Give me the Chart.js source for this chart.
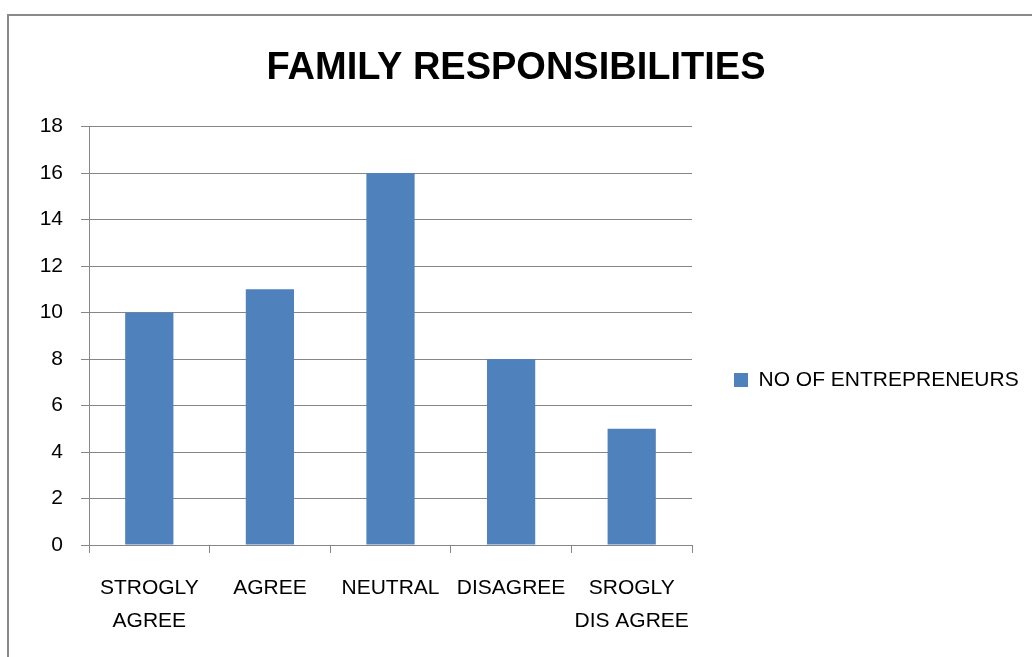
<!DOCTYPE html>
<html>
<head>
<meta charset="utf-8">
<script src="https://cdn.jsdelivr.net/npm/chart.js@4/dist/chart.umd.min.js"></script>
<style>
  html, body { margin: 0; padding: 0; background: #fff; overflow: hidden; }
  #frame { position: absolute; left: 7px; top: 14px; width: 2000px; height: 2000px; border: 2px solid #8a8a8a; }
  #chart { position: absolute; left: 0; top: 0; }
</style>
</head>
<body>
<div id="frame"></div>
<canvas id="chart" width="1032" height="657"></canvas>
<script>
// data
const chartTitle = 'FAMILY RESPONSIBILITIES';
const seriesName = 'NO OF ENTREPRENEURS';
const categories = [['STROGLY', 'AGREE'], 'AGREE', 'NEUTRAL', 'DISAGREE', ['SROGLY', 'DIS AGREE']];
const entrepreneurs = [10, 11, 16, 8, 5];
const yMin = 0, yMax = 18, yStep = 2;

const FONT = "'Liberation Sans', Arial, sans-serif";
const GRID = '#868686';
const BAR = '#4f81bd';

// puts the legend where excel had it (right, roughly mid height)
const legendPlacer = {
  id: 'legendPlacer',
  afterLayout(chart) {
    const lg = chart.legend;
    if (!lg) return;
    const pad = lg.options.labels.padding;
    const fs = lg.options.labels.font.size;
    lg.left = 734 - pad;
    lg.top = 380 - fs / 2 - pad;
    lg.right = chart.width;
    lg.bottom = chart.height;
    lg.width = lg.right - lg.left;
    lg.height = lg.bottom - lg.top;
  }
};

new Chart(document.getElementById('chart').getContext('2d'), {
  type: 'bar',
  data: {
    labels: categories,
    datasets: [{
      label: seriesName,
      data: entrepreneurs,
      backgroundColor: BAR,
      borderWidth: 0,
      barPercentage: 0.4,
      categoryPercentage: 1
    }]
  },
  plugins: [legendPlacer],
  options: {
    responsive: false,
    devicePixelRatio: 1,
    animation: false,
    layout: { padding: 0 },
    plugins: {
      title: {
        display: true,
        text: chartTitle,
        color: '#000',
        font: { family: FONT, size: 38, weight: 'bold', lineHeight: 1.2 },
        padding: { top: 46, bottom: 35 }
      },
      legend: {
        position: 'right',
        align: 'start',
        maxWidth: 340,
        labels: {
          color: '#000',
          boxWidth: 14,
          boxHeight: 14,
          padding: 80,
          font: { family: FONT, size: 21 }
        }
      },
      tooltip: { enabled: false }
    },
    scales: {
      x: {
        afterFit: s => { s.height = 112; },
        grid: { display: true, drawOnChartArea: false, drawTicks: true, tickLength: 8, color: GRID, offset: true },
        border: { display: true, color: GRID },
        ticks: { color: '#000', padding: 18, maxRotation: 0, autoSkip: false, font: { family: FONT, size: 21, lineHeight: 1.6 } }
      },
      y: {
        min: yMin,
        max: yMax,
        afterFit: s => { s.width = 89; },
        grid: { color: GRID, tickLength: 8 },
        border: { display: true, color: GRID },
        ticks: { stepSize: yStep, color: '#000', padding: 18, font: { family: FONT, size: 21 } }
      }
    }
  }
});
</script>
</body>
</html>
